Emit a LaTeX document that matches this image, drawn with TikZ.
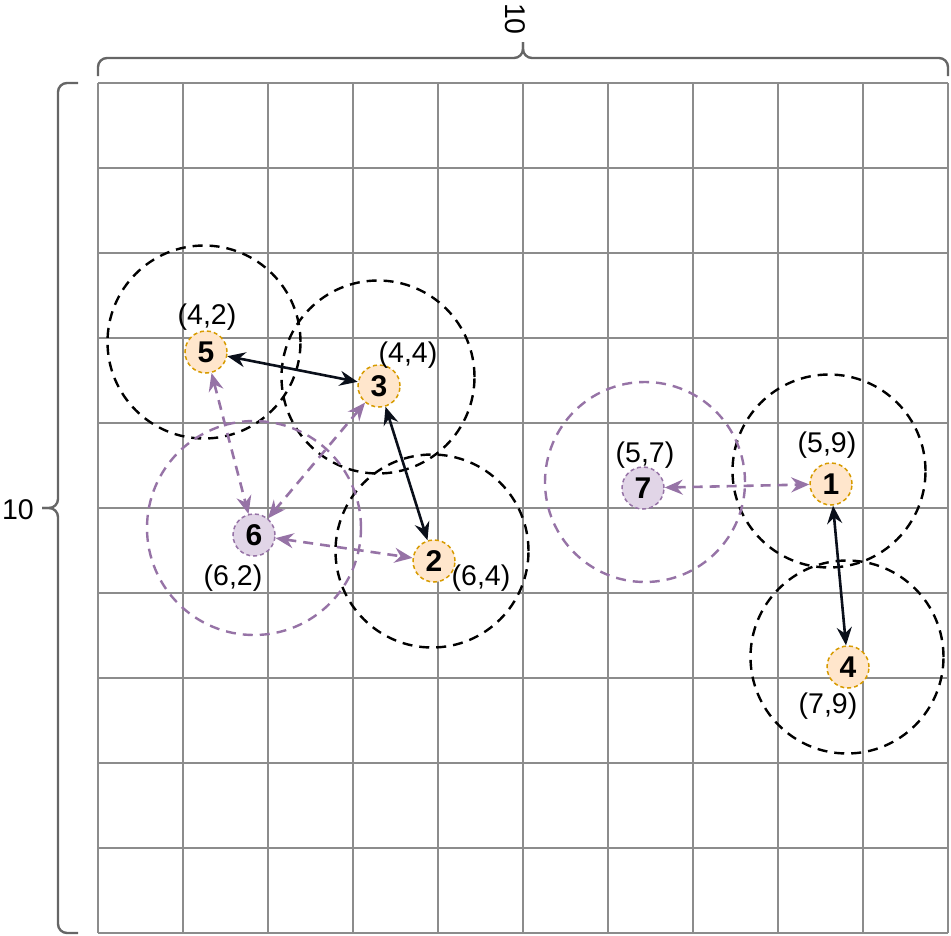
\documentclass[tikz,border=0pt]{standalone}
\usepackage{fontspec}
\setmainfont{Liberation Sans}
\usetikzlibrary{arrows.meta, positioning}

\definecolor{gridgray}{HTML}{8C8C8C}
\definecolor{bracegray}{HTML}{666666}
\definecolor{ofill}{HTML}{FFE6CC}
\definecolor{odraw}{HTML}{D79B00}
\definecolor{pfill}{HTML}{E1D5E7}
\definecolor{pdraw}{HTML}{9673A6}
\definecolor{linkblack}{HTML}{0A0F1A}

\begin{document}
\begin{tikzpicture}[x=1pt,y=-1pt,>={Stealth[length=18pt,width=15pt,inset=6pt]},
	gridline/.style={draw=gridgray, line width=2pt},
	brace/.style={draw=bracegray, line width=2.4pt, rounded corners=9pt},
	ostate/.style={circle, draw=odraw, fill=ofill, dash pattern=on 4pt off 3pt, line width=1.5pt, minimum size=42pt, inner sep=0pt, font=\fontsize{30}{31}\selectfont\bfseries},
	pstate/.style={ostate, draw=pdraw, fill=pfill},
	reach/.style={circle, draw=black, dash pattern=on 10pt off 7pt, line width=2.4pt, inner sep=0pt},
	preach/.style={reach, draw=pdraw},
	lbl/.style={font=\fontsize{28.5}{30}\selectfont, inner sep=0pt},
	link/.style={<->, draw=linkblack, line width=2.6pt},
	plink/.style={<->, draw=pdraw, line width=2.6pt, dash pattern=on 10pt off 7pt}]

	\useasboundingbox (0,0) rectangle (951,935);

	% grid
	\foreach \i in {0,...,10} {
		\draw[gridline] ({98+85*\i},83) -- ({98+85*\i},933);
		\draw[gridline] (98,{83+85*\i}) -- (948,{83+85*\i});
	}

	% braces
	\draw[brace] (98,76) |- (523,58) -- (523,42);
	\draw[brace] (948,76) |- (523,58) -- (523,42);
	\draw[brace] (78,83) -| (58,508) -- (42,508);
	\draw[brace] (78,933) -| (58,508) -- (42,508);
	\node[lbl, rotate=-90] (wlbl) at (515,19) {10};
	\node[lbl] (hlbl) at (18,510) {10};

	% reach circles
	\node (r5) [reach, minimum size=193pt] at (204,342) {};
	\node (r3) [reach, minimum size=193pt] at (378,377) {};
	\node (r2) [reach, minimum size=193pt] at (432,551) {};
	\node (r1) [reach, minimum size=193pt] at (829,471) {};
	\node (r4) [reach, minimum size=193pt] at (847,657) {};
	\node (r6) [preach, minimum size=214pt] at (254,528) {};
	\node (r7) [preach, minimum size=200pt] at (645,482) {};

	% states
	\node (n5) [ostate] at (206,352) {5};
	\node (n3) [ostate] at (379,386) {3};
	\node (n2) [ostate] at (434,561) {2};
	\node (n1) [ostate] at (831,484) {1};
	\node (n4) [ostate] at (848,667) {4};
	\node (n6) [pstate] at (254,535) {6};
	\node (n7) [pstate] at (643,488) {7};

	% labels
	\node (l5) [lbl] at (207,317) {(4,2)};
	\node (l3) [lbl] at (408,355) {(4,4)};
	\node (l6) [lbl] at (233,578) {(6,2)};
	\node (l2) [lbl] at (481,578) {(6,4)};
	\node (l7) [lbl] at (645,455) {(5,7)};
	\node (l1) [lbl] at (827,445) {(5,9)};
	\node (l4) [lbl] at (828,706) {(7,9)};

	\path
	(n5) edge [link] (n3)
	(n3) edge [link] (n2)
	(n1) edge [link] (n4)

	(n5) edge [plink] (n6)
	(n3) edge [plink] (n6)
	(n6) edge [plink] (n2)
	(n7) edge [plink] (n1);

\end{tikzpicture}
\end{document}
